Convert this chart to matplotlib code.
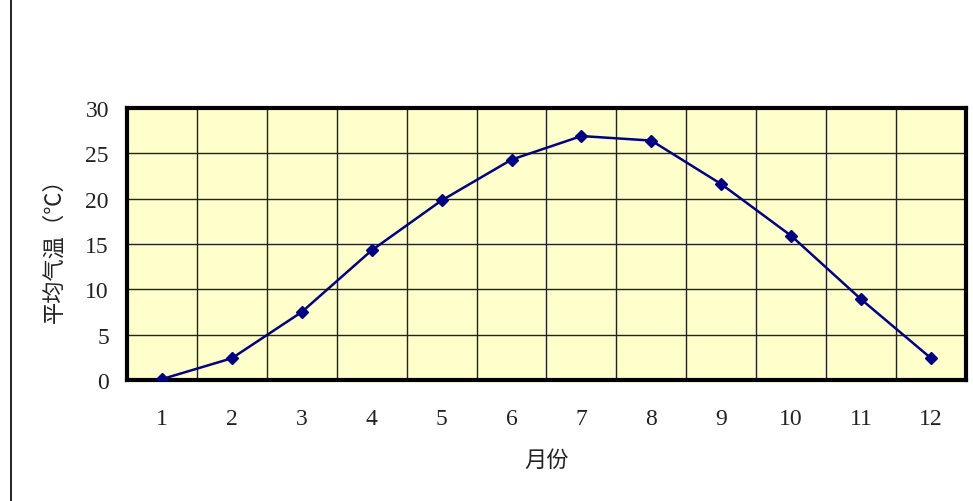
import matplotlib
matplotlib.use('Agg')
import matplotlib.pyplot as plt
from matplotlib.lines import Line2D
import numpy as np

months = [1, 2, 3, 4, 5, 6, 7, 8, 9, 10, 11, 12]
temps = [0.1, 2.4, 7.5, 14.3, 19.8, 24.3, 26.9, 26.4, 21.6, 15.9, 8.9, 2.4]
yticks = [0, 5, 10, 15, 20, 25, 30]

plt.rcParams['font.family'] = ['Liberation Serif', 'Noto Sans CJK SC', 'DejaVu Sans']

fig = plt.figure(figsize=(9.73, 5.02), dpi=100)
ax = fig.add_axes([0.1305, 0.241, 0.8623, 0.542])
ax.set_facecolor('#FFFFCC')

ax.plot(months, temps, color='#000080', lw=1.8, marker='D', ms=6.5,
        markerfacecolor='#000080', markeredgecolor='#000080', zorder=3)

ax.set_xlim(0.5, 12.5)
ax.set_ylim(0, 30)
ax.set_yticks(yticks)
ax.set_xticks(months)
ax.grid(False)
for x in np.arange(1.5, 12.5, 1):
    ax.axvline(x, color='#222222', lw=1.0, zorder=1)
for y in yticks[1:-1]:
    ax.axhline(y, color='#222222', lw=1.0, zorder=1)

ax.tick_params(axis='both', which='both', length=0, labelsize=17, labelcolor='#222222')
ax.tick_params(axis='x', pad=20)
ax.tick_params(axis='y', pad=13)
for s in ax.spines.values():
    s.set_linewidth(3)
    s.set_color('black')

ax.set_xlabel('月份', fontsize=16, family=['Noto Sans CJK SC'], labelpad=14, color='#222222')
ax.set_ylabel('平均气温（℃）', fontsize=16, family=['Noto Sans CJK SC'], labelpad=14, color='#222222')

fig.add_artist(Line2D([0.0108, 0.0108], [0, 1], color='black', lw=1.2, transform=fig.transFigure))

fig.savefig('out.png', dpi=100)
